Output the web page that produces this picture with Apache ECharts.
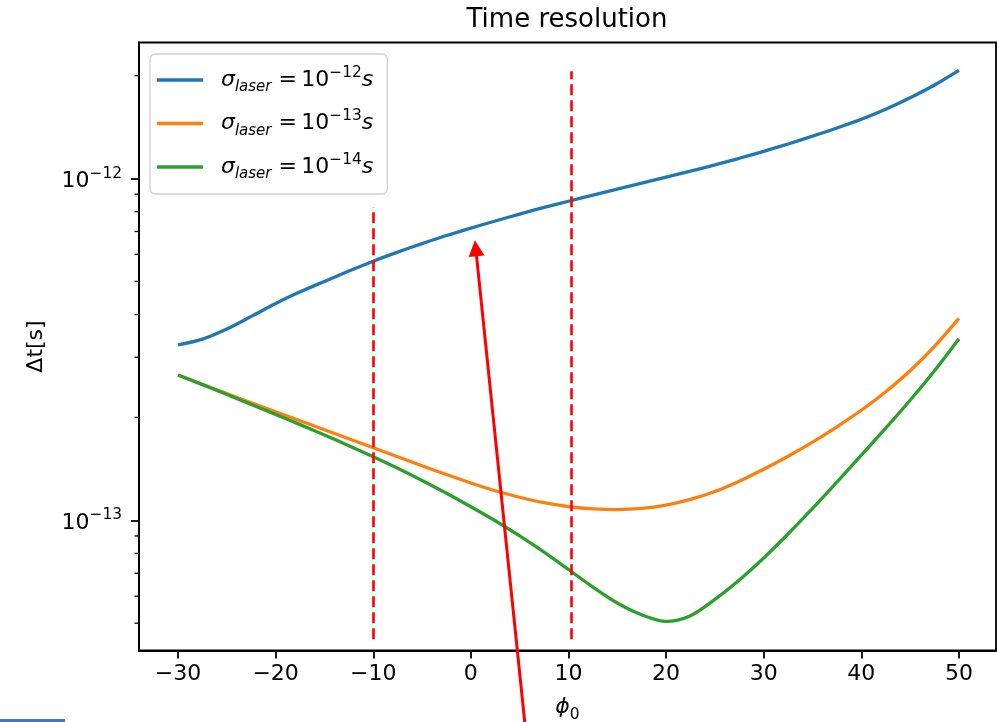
<!DOCTYPE html>
<html>
<head>
<meta charset="utf-8">
<title>Time resolution</title>
<script src="https://cdn.jsdelivr.net/npm/echarts@6/dist/echarts.min.js"></script>
<style>
  html, body { margin: 0; padding: 0; background: #ffffff; }
  #chart { width: 997px; height: 722px; }
</style>
</head>
<body>
<div id="chart"></div>
<script>
// Scan phase phi_0 (degrees)
const phi = [-30, -27.5, -25, -22.5, -20, -17.5, -15, -12.5, -10, -7.5, -5, -2.5, 0, 2.5, 5, 7.5, 10,
             12.5, 15, 17.5, 20, 22.5, 25, 27.5, 30, 32.5, 35, 37.5, 40, 42.5, 45, 47.5, 50];

// Time resolution Δt [s] for each laser jitter
const sigma12 = [3.26e-13, 3.39e-13, 3.63e-13, 3.95e-13, 4.31e-13, 4.66e-13, 5.00e-13, 5.36e-13, 5.73e-13,
                 6.09e-13, 6.45e-13, 6.81e-13, 7.16e-13, 7.51e-13, 7.87e-13, 8.23e-13, 8.58e-13, 8.94e-13,
                 9.31e-13, 9.69e-13, 1.009e-12, 1.051e-12, 1.096e-12, 1.146e-12, 1.201e-12, 1.262e-12, 1.330e-12,
                 1.405e-12, 1.490e-12, 1.594e-12, 1.722e-12, 1.877e-12, 2.072e-12];
const sigma13 = [2.663e-13, 2.498e-13, 2.348e-13, 2.208e-13, 2.078e-13, 1.956e-13, 1.841e-13, 1.733e-13, 1.631e-13,
                 1.534e-13, 1.444e-13, 1.361e-13, 1.286e-13, 1.220e-13, 1.168e-13, 1.126e-13, 1.097e-13, 1.080e-13,
                 1.075e-13, 1.083e-13, 1.108e-13, 1.151e-13, 1.214e-13, 1.302e-13, 1.410e-13, 1.539e-13, 1.693e-13,
                 1.878e-13, 2.099e-13, 2.377e-13, 2.738e-13, 3.228e-13, 3.898e-13];
const sigma14 = [2.663e-13, 2.494e-13, 2.334e-13, 2.182e-13, 2.040e-13, 1.905e-13, 1.776e-13, 1.653e-13, 1.535e-13,
                 1.420e-13, 1.308e-13, 1.200e-13, 1.096e-13, 9.97e-14, 9.00e-14, 8.07e-14, 7.18e-14, 6.38e-14,
                 5.73e-14, 5.29e-14, 5.06e-14, 5.26e-14, 5.87e-14, 6.69e-14, 7.76e-14, 9.12e-14, 1.083e-13,
                 1.294e-13, 1.551e-13, 1.860e-13, 2.245e-13, 2.738e-13, 3.397e-13];

// Laser jitter exponents used in the legend (σ_laser = 10^exp s)
const laserExponents = [-12, -13, -14];

// Axis ticks
const xTicks = [-30, -20, -10, 0, 10, 20, 30, 40, 50];
const yMajorTicks = [1e-13, 1e-12];
const yMinorTicks = [5e-14, 6e-14, 7e-14, 8e-14, 9e-14,
                     2e-13, 3e-13, 4e-13, 5e-13, 6e-13, 7e-13, 8e-13, 9e-13, 2e-12];
const xRange = [-34, 53.8];
const yRange = [4.16e-14, 2.50e-12];

// Red guide lines (phi, lower Δt, upper Δt) and the pointer arrow (tail -> head)
const guidePhi = [-10, 10.3];
const guideLow = [4.49e-14, 4.49e-14];
const guideHigh = [8.25e-13, 2.06e-12];
const arrowTail = [5.70, 2.29e-14];
const arrowHead = [0.50, 6.25e-13];

const FONT = 'DejaVu Sans';
const COLORS = ['#1f77b4', '#ff7f0e', '#2ca02c'];
const valueSets = [sigma12, sigma13, sigma14];
const MINOR_TICK_LEN = 4.5;   // px

const minus = s => String(s).replace('-', '\u2212');
const seriesName = e => 'sigma_laser=1e' + e;

function powerLabel(v) {
  const lg = Math.log10(v);
  const e = Math.round(lg);
  if (Math.abs(lg - e) > 1e-6) return '';
  return '{n|10}{s|' + minus(e) + '}';
}

const lineSeries = laserExponents.map((e, k) => ({
  name: seriesName(e),
  type: 'line',
  xAxisIndex: 0,
  yAxisIndex: 0,
  data: phi.map((p, i) => [p, valueSets[k][i]]),
  symbol: 'none',
  smooth: 0.3,
  lineStyle: { color: COLORS[k], width: 3.3 },
  itemStyle: { color: COLORS[k] },
  z: 3
}));

const guideSeries = {
  type: 'lines',
  coordinateSystem: 'cartesian2d',
  xAxisIndex: 0,
  yAxisIndex: 0,
  clip: false,
  silent: true,
  z: 4,
  lineStyle: { color: '#ff0000', width: 2.6, type: [11, 5], opacity: 1 },
  data: guidePhi.map((p, i) => ({ coords: [[p, guideLow[i]], [p, guideHigh[i]]] }))
};

const arrowSeries = {
  type: 'lines',
  coordinateSystem: 'cartesian2d',
  xAxisIndex: 0,
  yAxisIndex: 0,
  clip: false,
  silent: true,
  z: 5,
  symbol: ['none', 'triangle'],
  symbolSize: [15, 16],
  lineStyle: { color: '#ff0000', width: 3, opacity: 1 },
  itemStyle: { color: '#ff0000' },
  data: [{ coords: [arrowTail, arrowHead] }]
};

const option = {
  animation: false,
  backgroundColor: '#ffffff',
  textStyle: { fontFamily: FONT, color: '#000000' },
  title: {
    text: 'Time resolution',
    left: 562,
    textAlign: 'center',
    top: 2,
    textStyle: { fontFamily: FONT, fontSize: 26, fontWeight: 'normal', color: '#000000' }
  },
  grid: {
    left: 139, top: 42.5, right: 1, bottom: 71.5,
    show: true, borderColor: '#000000', borderWidth: 1.8,
    backgroundColor: 'transparent',
    containLabel: false,
    outerBoundsMode: 'none'
  },
  legend: {
    orient: 'vertical',
    left: 150,
    top: 54,
    padding: [11, 14, 12, 7],
    icon: 'rect',
    itemWidth: 46,
    itemHeight: 3.3,
    itemGap: 13.5,
    borderColor: '#d0d0d0',
    borderWidth: 1.3,
    borderRadius: 5,
    backgroundColor: 'rgba(255,255,255,0.8)',
    data: laserExponents.map(seriesName),
    formatter: name => {
      const e = laserExponents[laserExponents.map(seriesName).indexOf(name)];
      return '{sig|σ}{sub|laser}{eq| =\u200910}{sup|' + minus(e) + '}{it|s}';
    },
    textStyle: {
      fontFamily: FONT, fontSize: 22, color: '#000000',
      rich: {
        sig: { fontFamily: FONT, fontSize: 22, fontStyle: 'italic', lineHeight: 30, padding: [0, 0, 0, 13] },
        sub: { fontFamily: FONT, fontSize: 15, fontStyle: 'italic', lineHeight: 17, verticalAlign: 'bottom' },
        eq: { fontFamily: FONT, fontSize: 22, lineHeight: 30 },
        sup: { fontFamily: FONT, fontSize: 15.4, lineHeight: 21, verticalAlign: 'top' },
        it: { fontFamily: FONT, fontSize: 22, fontStyle: 'italic', lineHeight: 30 }
      }
    }
  },
  xAxis: [{
    type: 'value',
    min: xRange[0],
    max: xRange[1],
    position: 'bottom',
    name: '{phi|\u03D5}{sub|0}',
    nameLocation: 'middle',
    nameGap: 42,
    nameTextStyle: {
      rich: {
        phi: { fontFamily: FONT, fontSize: 22, fontStyle: 'italic', lineHeight: 30, color: '#000' },
        sub: { fontFamily: FONT, fontSize: 15.4, lineHeight: 17, verticalAlign: 'bottom', color: '#000' }
      }
    },
    splitLine: { show: false },
    axisLine: { show: true, onZero: false, lineStyle: { color: '#000000', width: 1.8 } },
    axisTick: { show: true, customValues: xTicks, length: 8, lineStyle: { color: '#000000', width: 1.8 } },
    axisLabel: {
      customValues: xTicks,
      formatter: v => minus(v),
      margin: 13,
      fontFamily: FONT, fontSize: 22, color: '#000000'
    }
  }],
  yAxis: [{
    type: 'log',
    logBase: 10,
    min: yRange[0],
    max: yRange[1],
    position: 'left',
    name: 'Δt[s]',
    nameLocation: 'middle',
    nameGap: 92,
    nameTextStyle: { fontFamily: FONT, fontSize: 22, color: '#000000' },
    splitLine: { show: false },
    axisLine: { show: true, onZero: false, lineStyle: { color: '#000000', width: 1.8 } },
    axisTick: { show: true, customValues: yMajorTicks, length: 8, lineStyle: { color: '#000000', width: 1.8 } },
    axisLabel: {
      customValues: yMajorTicks,
      formatter: powerLabel,
      margin: 17,
      padding: [5, 0, 0, 0],
      rich: {
        n: { fontFamily: FONT, fontSize: 22, lineHeight: 30, color: '#000' },
        s: { fontFamily: FONT, fontSize: 15.4, lineHeight: 21, verticalAlign: 'top', color: '#000' }
      }
    }
  }],
  series: [...lineSeries, guideSeries, arrowSeries],
  graphic: [{
    id: 'screen-strip',
    type: 'rect',
    left: 0,
    top: 719,
    shape: { width: 65, height: 4 },
    style: { fill: '#4472c4' },
    silent: true
  }]
};

const chart = echarts.init(document.getElementById('chart'), null, { renderer: 'canvas' });
chart.setOption(option);

// Minor ticks of the log axis, placed through the axis scale once the layout exists
function drawMinorTicks() {
  const ticks = yMinorTicks.map((v, i) => {
    const p = chart.convertToPixel({ xAxisIndex: 0, yAxisIndex: 0 }, [xRange[0], v]);
    return {
      id: 'minor-tick-' + i,
      type: 'line',
      silent: true,
      z: 10,
      shape: { x1: p[0], y1: p[1], x2: p[0] - MINOR_TICK_LEN, y2: p[1] },
      style: { stroke: '#000000', lineWidth: 1.3 }
    };
  });
  chart.setOption({ graphic: ticks });
}
drawMinorTicks();
</script>
</body>
</html>
